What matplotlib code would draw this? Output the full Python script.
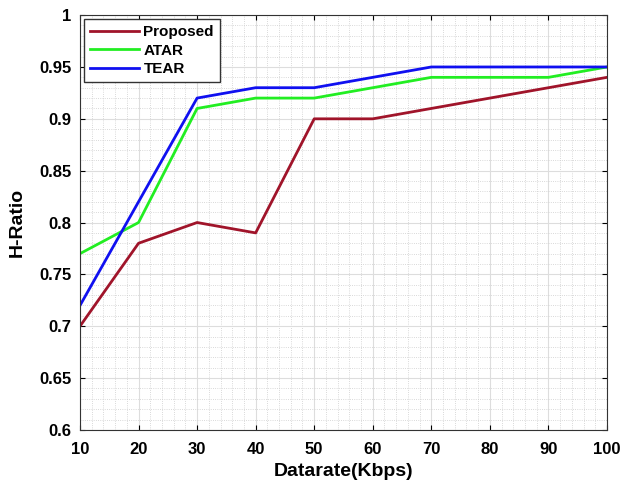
import matplotlib.pyplot as plt
from matplotlib.ticker import MultipleLocator

plt.rcParams['font.family'] = ['Liberation Sans', 'DejaVu Sans']
plt.rcParams['font.weight'] = 'bold'

datarate = [10, 20, 30, 40, 50, 60, 70, 80, 90, 100]
proposed = [0.70, 0.78, 0.80, 0.79, 0.90, 0.90, 0.91, 0.92, 0.93, 0.94]
atar = [0.77, 0.80, 0.91, 0.92, 0.92, 0.93, 0.94, 0.94, 0.94, 0.95]
tear = [0.72, 0.82, 0.92, 0.93, 0.93, 0.94, 0.95, 0.95, 0.95, 0.95]

fig = plt.figure(figsize=(6.2, 4.88), dpi=100)
ax = fig.add_axes([0.129, 0.119, 0.850, 0.850])

ax.plot(datarate, proposed, color='#a0142a', lw=2, label='Proposed')
ax.plot(datarate, atar, color='#22ee22', lw=2, label='ATAR')
ax.plot(datarate, tear, color='#1010f0', lw=2, label='TEAR')

ax.set_xlim(10, 100)
ax.set_ylim(0.6, 1.0)
ax.set_xticks(datarate)
ax.set_yticks([0.6, 0.65, 0.7, 0.75, 0.8, 0.85, 0.9, 0.95, 1.0])
ax.set_yticklabels(['0.6', '0.65', '0.7', '0.75', '0.8', '0.85', '0.9', '0.95', '1'])
ax.xaxis.set_minor_locator(MultipleLocator(2))
ax.yaxis.set_minor_locator(MultipleLocator(0.01))
ax.grid(which='major', color='#dddddd', lw=0.8)
ax.grid(which='minor', color='#cccccc', lw=0.6, ls=':')
ax.tick_params(which='both', direction='in', top=True, right=True, labelsize=12)
ax.tick_params(axis='x', pad=9)
ax.tick_params(axis='y', pad=6)
ax.tick_params(which='minor', length=0)
for s in ax.spines.values():
    s.set_color('#333333')

ax.set_xlabel('Datarate(Kbps)', fontsize=14, fontweight='bold', labelpad=4)
ax.set_ylabel('H-Ratio', fontsize=14, fontweight='bold', labelpad=10)

leg = ax.legend(loc='upper left', fontsize=11, fancybox=False, framealpha=1,
                edgecolor='#333333', handlelength=3.2, borderaxespad=0.25,
                labelspacing=0.3, handletextpad=0.3)

fig.savefig('out.png')
